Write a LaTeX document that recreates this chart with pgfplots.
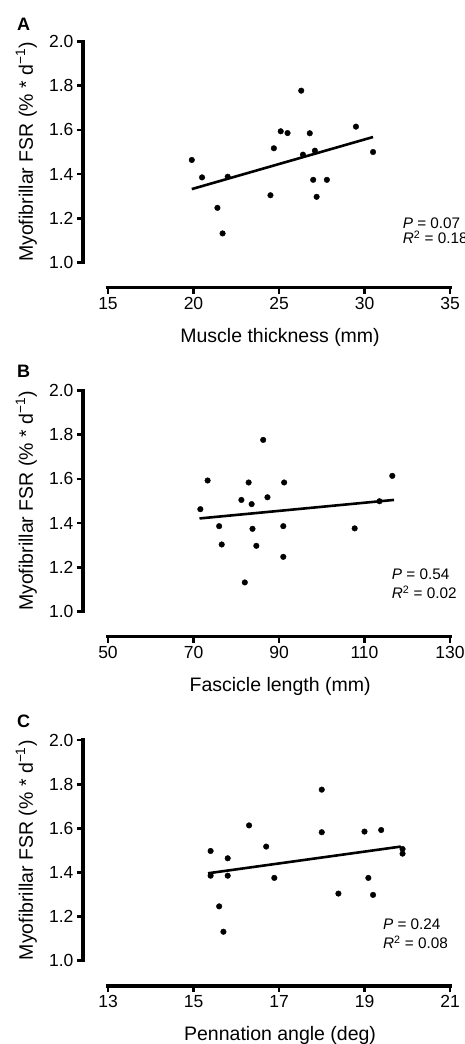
\documentclass[border=0pt]{standalone}
\usepackage{pgfplots}
\pgfplotsset{compat=1.18}
\usepackage{fontspec}
\setmainfont{Liberation Sans}
\newcommand{\lab}{\fontsize{19.5}{19.5}\selectfont}
\newcommand{\tkf}{\fontsize{17.5}{17.5}\selectfont}
\newcommand{\stf}{\fontsize{15.3}{15.3}\selectfont}
\pgfplotsset{
  panel/.style={
    scale only axis, width=367pt, height=246pt, anchor=south west,
    axis x line*=bottom, axis y line*=left,
    axis line style={draw=none},
    tick align=outside, major tick length=6pt,
    every tick/.style={black, line width=2.8pt},
    ymin=0.885, ymax=2.0,
    ytick={1.0,1.2,1.4,1.6,1.8,2.0},
    clip=false,
    /pgf/number format/assume math mode=true,
    tick label style={font=\tkf},
    yticklabel style={/pgf/number format/.cd, fixed, fixed zerofill, precision=1},
    xticklabel style={/pgf/number format/.cd, fixed},
    ylabel={Myofibrillar FSR (\% * d\textsuperscript{−1})},
    every axis y label/.style={at={(axis description cs:-0.1253,0.5516)}, rotate=90, anchor=south, inner sep=0pt, font=\lab},
    every axis x label/.style={at={(axis description cs:0.537,0)}, anchor=base, yshift=-54.5pt, inner sep=0pt, font=\lab},
  },
  pts/.style={only marks, mark=*, mark size=2.8pt, mark options={fill=black, draw=black}},
  fit/.style={no marks, black, line width=2.6pt},
}
\begin{document}
\begin{tikzpicture}
\useasboundingbox (0,0) rectangle (465pt,-1044pt);
\clip (0,0) rectangle (465pt,-1044pt);

% Panel A
\node[anchor=base west, inner sep=0pt, font=\bfseries\fontsize{18}{18}\selectfont] at (17pt,-30pt) {A};
\begin{axis}[panel, at={(83pt,-287.7pt)},
  xmin=13.538, xmax=35, xtick={15,20,25,30,35},
  xlabel={Muscle thickness (mm)}]
\addplot[pts] coordinates {
(19.9,1.464) (20.5,1.385) (22.0,1.388) (21.4,1.247) (21.7,1.131)
(24.5,1.304) (24.7,1.517) (25.1,1.594) (25.5,1.586) (26.3,1.778)
(26.4,1.488) (26.8,1.585) (27.1,1.506) (27.0,1.374) (27.2,1.297)
(27.8,1.374) (29.5,1.615) (30.5,1.500)};
\addplot[fit] coordinates {(19.9,1.332) (30.5,1.568)};
\draw[line width=3.2pt, line cap=rect] (axis cs:13.538,1.0) -- (axis cs:13.538,2.0);
\draw[line width=3.2pt, line cap=rect] (axis cs:15,0.885) -- (axis cs:35,0.885);
\node[anchor=base west, inner sep=0pt, font=\stf] at (axis cs:32.23,1.154) {\textit{P} = 0.07};
\node[anchor=base west, inner sep=0pt, font=\stf] at (axis cs:32.23,1.086) {\textit{R}\textsuperscript{2} = 0.18};
\end{axis}

% Panel B
\node[anchor=base west, inner sep=0pt, font=\bfseries\fontsize{18}{18}\selectfont] at (17pt,-377pt) {B};
\begin{axis}[panel, at={(83pt,-636.7pt)},
  xmin=44.152, xmax=130, xtick={50,70,90,110,130},
  xlabel={Fascicle length (mm)}]
\addplot[pts] coordinates {
(71.6,1.463) (73.3,1.593) (76.0,1.386) (76.6,1.303) (81.2,1.505)
(82.0,1.131) (82.9,1.584) (83.6,1.486) (83.8,1.374) (84.7,1.297)
(86.3,1.777) (87.3,1.517) (91.0,1.386) (91.2,1.584) (91.0,1.247)
(107.7,1.376) (113.5,1.499) (116.5,1.614)};
\addplot[fit] coordinates {(71.4,1.421) (116.9,1.505)};
\draw[line width=3.2pt, line cap=rect] (axis cs:44.152,1.0) -- (axis cs:44.152,2.0);
\draw[line width=3.2pt, line cap=rect] (axis cs:50,0.885) -- (axis cs:130,0.885);
\node[anchor=base west, inner sep=0pt, font=\stf] at (axis cs:116.36,1.145) {\textit{P} = 0.54};
\node[anchor=base west, inner sep=0pt, font=\stf] at (axis cs:116.36,1.059) {\textit{R}\textsuperscript{2} = 0.02};
\end{axis}

% Panel C
\node[anchor=base west, inner sep=0pt, font=\bfseries\fontsize{18}{18}\selectfont] at (17pt,-727pt) {C};
\begin{axis}[panel, at={(83pt,-986pt)},
  xmin=12.415, xmax=21, xtick={13,15,17,19,21},
  xlabel={Pennation angle (deg)}]
\addplot[pts] coordinates {
(15.40,1.497) (15.40,1.385) (15.80,1.464) (15.80,1.385) (15.60,1.246)
(15.70,1.131) (16.30,1.613) (16.70,1.517) (16.89,1.375) (18.00,1.775)
(18.00,1.582) (18.39,1.304) (19.00,1.585) (19.09,1.375) (19.20,1.298)
(19.39,1.592) (19.89,1.506) (19.89,1.485)};
\addplot[fit] coordinates {(15.34,1.396) (19.85,1.517)};
\draw[line width=3.2pt, line cap=rect] (axis cs:12.415,1.0) -- (axis cs:12.415,2.0);
\draw[line width=3.2pt, line cap=rect] (axis cs:13,0.885) -- (axis cs:21,0.885);
\node[anchor=base west, inner sep=0pt, font=\stf] at (axis cs:19.43,1.142) {\textit{P} = 0.24};
\node[anchor=base west, inner sep=0pt, font=\stf] at (axis cs:19.43,1.056) {\textit{R}\textsuperscript{2} = 0.08};
\end{axis}
\end{tikzpicture}
\end{document}
